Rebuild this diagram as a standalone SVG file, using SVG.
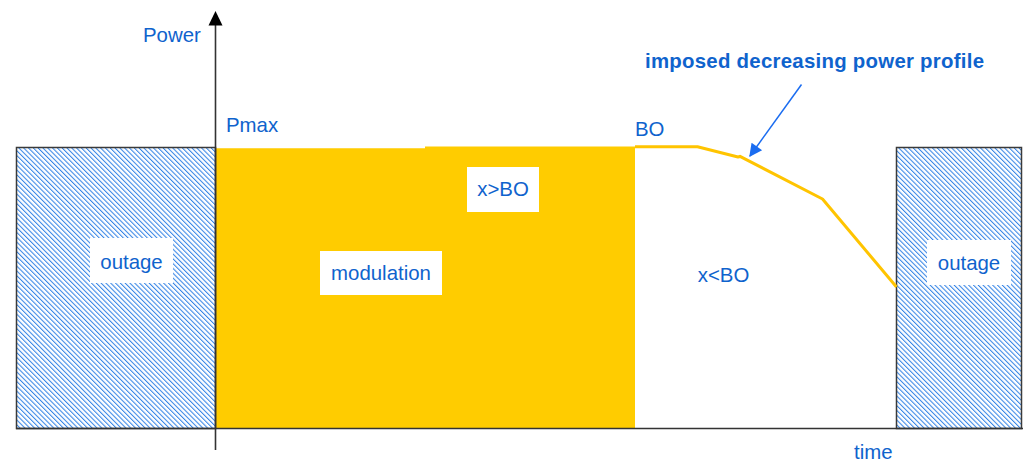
<svg xmlns="http://www.w3.org/2000/svg" width="1023" height="461" viewBox="0 0 1023 461">
<style>
text{font-family:"Liberation Sans",Arial,sans-serif;font-size:20.4px;fill:#0F63CD}
.lbl{fill:#fff}
.out{fill:url(#hatch);stroke:#3a3a3a;stroke-width:1.5}
.axis{stroke:#333;stroke-width:1.6;fill:none}
</style>
<defs>
<pattern id="hatch" width="3.4" height="10" patternUnits="userSpaceOnUse" patternTransform="rotate(-45)">
<rect width="3.4" height="10" fill="#fff"/>
<rect width="1.05" height="10" fill="#3584E6"/>
</pattern>
<marker id="ah" viewBox="0 0 10 10" refX="9" refY="5" markerWidth="15" markerHeight="13" markerUnits="userSpaceOnUse" orient="auto">
<path d="M0,0L10,5L0,10z" fill="#1A6CF0"/>
</marker>
</defs>
<rect width="1023" height="461" fill="#fff"/>
<g id="modulation-area">
<polygon points="216,148.3 425,148.3 425,146.5 635,146.5 635,428 216,428" fill="#FFCC00"/>
</g>
<g id="outage-left">
<rect class="out" x="16.5" y="147.5" width="199" height="281"/>
<rect class="lbl" x="90" y="238" width="83" height="45"/>
<text x="131.5" y="269" text-anchor="middle">outage</text>
</g>
<g id="outage-right">
<rect class="out" x="896.5" y="147.5" width="125" height="281"/>
<rect class="lbl" x="927" y="240" width="84" height="45"/>
<text x="969" y="270" text-anchor="middle">outage</text>
</g>
<g id="modulation">
<rect class="lbl" x="320" y="251" width="122" height="44"/>
<text x="381" y="279.5" text-anchor="middle">modulation</text>
</g>
<g id="x-gt-bo">
<rect class="lbl" x="467" y="167" width="72" height="45"/>
<text x="503" y="195.5" text-anchor="middle">x&gt;BO</text>
</g>
<g id="x-lt-bo">
<text x="723.5" y="281.5" text-anchor="middle">x&lt;BO</text>
</g>
<g id="profile">
<polyline points="635,146.8 697.5,146.8 738,157 740,156.3 822.5,199 896.5,287" fill="none" stroke="#FFC400" stroke-width="3" stroke-linejoin="round"/>
</g>
<g id="axes">
<line class="axis" x1="215.5" y1="24" x2="215.5" y2="450"/>
<polygon points="215.5,11 222.5,25.5 208.5,25.5" fill="#000"/>
<line class="axis" x1="16" y1="428.5" x2="1023" y2="428.5"/>
</g>
<g id="axis-labels">
<text x="143" y="42">Power</text>
<text x="226" y="132">Pmax</text>
<text x="635" y="136">BO</text>
<text x="854" y="459">time</text>
</g>
<g id="annotation">
<text x="645" y="68" style="font-weight:bold" textLength="339">imposed decreasing power profile</text>
</g>
<g id="connectors">
<line x1="801.5" y1="84.5" x2="750" y2="156" stroke="#1A6CF0" stroke-width="1.5" marker-end="url(#ah)"/>
</g>
</svg>
